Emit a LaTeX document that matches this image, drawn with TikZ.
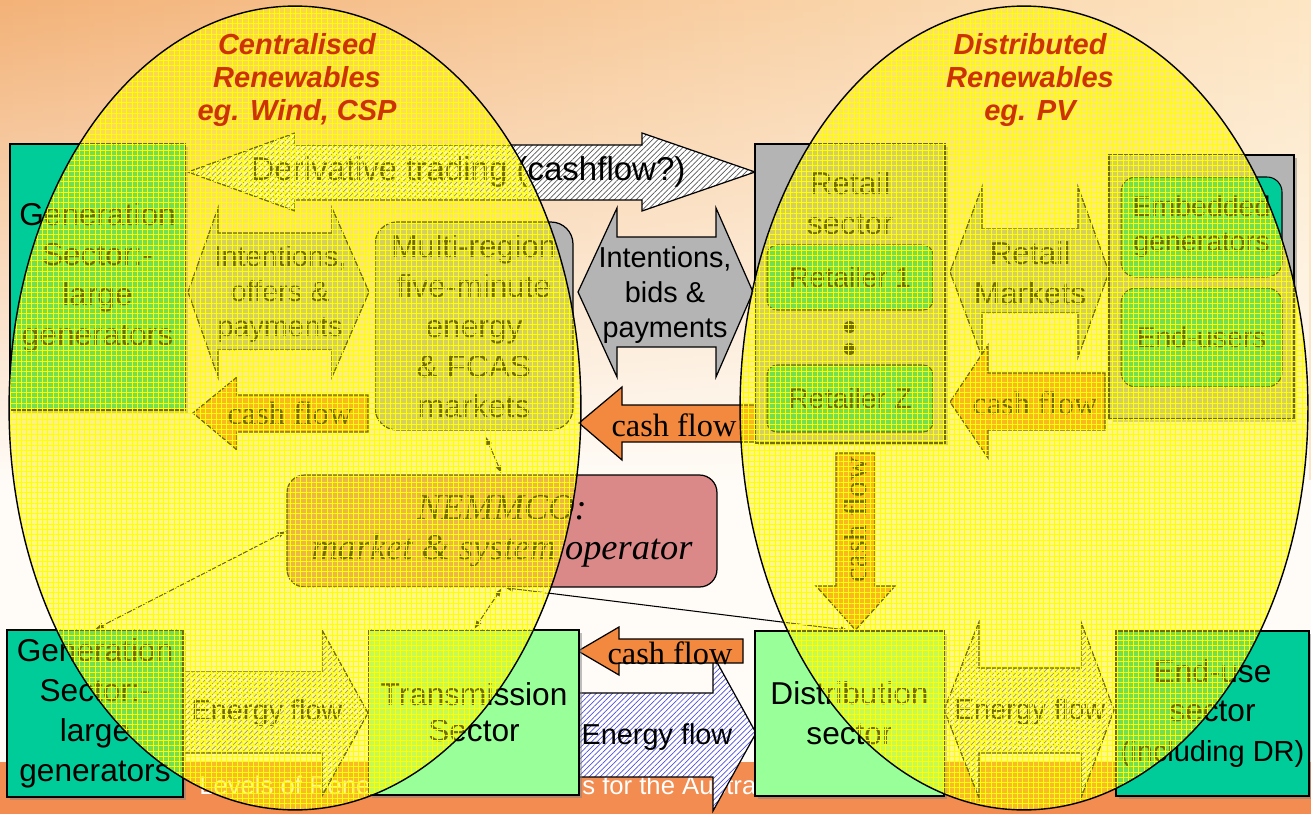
\documentclass[tikz,border=0pt]{standalone}
\usepackage{fontspec}
\setmainfont{Liberation Serif}
\setsansfont{Liberation Sans}
\usepackage{tikz}
\usetikzlibrary{arrows.meta, positioning, calc, shadows, patterns.meta, fadings}

\definecolor{sectorteal}{RGB}{0,204,153}
\definecolor{marketgray}{RGB}{180,180,180}
\definecolor{wiregreen}{RGB}{153,255,153}
\definecolor{nemrose}{RGB}{219,136,136}
\definecolor{cashorange}{RGB}{242,137,62}
\definecolor{titlered}{RGB}{204,51,0}
\definecolor{bgpeach}{RGB}{243,178,120}
\definecolor{bglight}{RGB}{253,230,196}
\definecolor{bgwhite}{RGB}{255,252,247}
\definecolor{bandorange}{RGB}{242,140,80}
\definecolor{flowblue}{RGB}{80,80,220}

\begin{document}
\begin{tikzpicture}[x=0.02cm, y=-0.02cm,
    sector/.style={draw, line width=0.7pt, inner sep=0pt, align=center,
        font=\sffamily\fontsize{18}{22.7}\selectfont,
        drop shadow={shadow xshift=1.7pt, shadow yshift=-1.7pt, opacity=0.5}},
    pane/.style={draw, line width=0.6pt, rounded corners=0.2cm, fill=sectorteal,
        inner sep=0pt, align=center, font=\sffamily\fontsize{16.2}{19.8}\selectfont},
    bigtext/.style={align=center, inner sep=0pt, font=\sffamily\fontsize{18}{22.7}\selectfont},
    flowtext/.style={align=center, inner sep=0pt, font=\sffamily\fontsize{16.4}{19.8}\selectfont},
    cashtext/.style={inner sep=0pt, font=\fontsize{18.4}{22}\selectfont},
    foottext/.style={inner sep=0pt, text=white, font=\sffamily\fontsize{14.6}{17}\selectfont},
    zonetitle/.style={align=center, inner sep=0pt, text=titlered,
        font=\sffamily\bfseries\itshape\fontsize{16.5}{19}\selectfont},
    cash/.style={draw, line width=0.7pt, fill=cashorange},
    flowgray/.style={draw, line width=0.7pt, fill=marketgray},
    hatched/.style={draw, line width=0.7pt, preaction={fill=white},
        pattern={Lines[angle=45, distance=2.2pt, line width=0.4pt]}, pattern color=black!65},
    hatchblue/.style={hatched, pattern color=flowblue},
    link/.style={line width=0.6pt, {Latex[length=5pt, width=3.4pt]}-{Latex[length=5pt, width=3.4pt]}}]

    \useasboundingbox (0,0) rectangle (1311,814);

    % Background
    \shade[left color=bgpeach, right color=bglight] (0,0) rectangle (1311,480);
    \fill[bgwhite, path fading=north] (0,0) rectangle (1311,480);
    \fill[bgwhite] (0,480) rectangle (1311,762);
    \fill[bandorange] (0,762) rectangle (1311,814);
    \node[foottext, anchor=base west] (foot1) at (199,794) {Levels of Rene};
    \node[foottext, anchor=base west] (foot2) at (582,794) {s for the Austra};

    % Derivative trading
    \draw[hatched] (188,172) -- (295,133) -- (295,145) -- (642,145) -- (642,133) -- (755,172)
        -- (642,211) -- (642,200) -- (295,200) -- (295,211) -- cycle;
    \node[flowtext, font=\sffamily\fontsize{18.8}{22}\selectfont] (deriv) at (468,172) {Derivative trading (cashflow?)};

    % Market exchanges
    \draw[flowgray] (188,292) -- (218,208) -- (218,233) -- (332,233) -- (332,208) -- (369,292)
        -- (332,377) -- (332,350) -- (218,350) -- (218,377) -- cycle;
    \node[flowtext] (offers) at (280,294) {Intentions,\\offers \&\\payments};
    \draw[flowgray] (578,292) -- (617,208) -- (617,237) -- (716,237) -- (716,208) -- (753,292)
        -- (716,377) -- (716,347) -- (617,347) -- (617,377) -- cycle;
    \node[flowtext] (bids) at (665,295) {Intentions,\\bids \&\\payments};
    \draw[flowgray] (950,272) -- (982,187) -- (982,229) -- (1078,229) -- (1078,187) -- (1109,272)
        -- (1078,357) -- (1078,313) -- (982,313) -- (982,357) -- cycle;
    \node[bigtext] (retmkt) at (1030,273) {Retail\\Markets};

    % Energy flows
    \draw[hatched] (183,672) -- (322,672) -- (322,630) -- (368,713) -- (322,796) -- (322,753)
        -- (183,753) -- cycle;
    \node[flowtext] (energyA) at (267,713) {Energy flow};
    \draw[hatchblue] (579,693) -- (713,693) -- (713,655) -- (756,733) -- (713,811) -- (713,777)
        -- (579,777) -- cycle;
    \node[flowtext] (energyB) at (657,737) {Energy flow};
    \draw[hatched] (944,710) -- (979,622) -- (979,668) -- (1081,668) -- (1081,622) -- (1114,710)
        -- (1081,798) -- (1081,753) -- (979,753) -- (979,798) -- cycle;
    \node[flowtext] (energyC) at (1030,712) {Energy flow};

    % Cash flows
    \draw[cash] (193,413) -- (237,377) -- (237,395) -- (368,395) -- (368,432) -- (237,432) -- (237,450) -- cycle;
    \node[cashtext] (cashA) at (290,413) {cash flow};
    \draw[cash] (579,423) -- (622,387) -- (622,405) -- (757,405) -- (757,442) -- (622,442) -- (622,460) -- cycle;
    \node[cashtext] (cashB) at (674,425) {cash flow};
    \draw[cash] (950,402) -- (988,345) -- (988,373) -- (1105,373) -- (1105,430) -- (988,430) -- (988,458) -- cycle;
    \node[cashtext] (cashC) at (1035,403) {cash flow};
    \draw[cash] (836,453) -- (875,453) -- (875,586) -- (895,586) -- (855.5,630) -- (816,586) -- (836,586) -- cycle;
    \node[cashtext, rotate=90] (cashD) at (855.5,520) {cash flow};
    \draw[cash] (578,651) -- (619,627) -- (619,639) -- (743,639) -- (743,663) -- (619,663) -- (619,675) -- cycle;
    \node[cashtext] (cashE) at (670,653) {cash flow};

    % Sectors
    \node[sector, fill=sectorteal, minimum width=3.5cm, minimum height=5.32cm] (genA) at (97.5,277)
        {Generation\\Sector:-\\large\\generators};
    \node[sector, fill=marketgray, minimum width=3.8cm, minimum height=5.98cm] (retail) at (850,293.5) {};
    \node[bigtext] (retailtxt) at (850,203) {Retail\\sector};
    \node[pane, minimum width=3.32cm, minimum height=1.3cm] (ret1) at (850,277.5) {Retailer 1};
    \node[pane, minimum width=3.32cm, minimum height=1.34cm] (retZ) at (850,398.5) {Retailer Z};
    \node[circle, fill, inner sep=0pt, minimum size=0.24cm] (dot1) at (849.5,327) {};
    \node[circle, fill, inner sep=0pt, minimum size=0.24cm] (dot2) at (849.5,349) {};
    \node[sector, fill=marketgray, minimum width=3.7cm, minimum height=5.28cm] (users) at (1201.5,287) {};
    \node[pane, rounded corners=0.3cm, minimum width=3.22cm, minimum height=2cm] (embed) at (1201.5,227)
        {Embedded\\generators};
    \node[pane, rounded corners=0.3cm, minimum width=3.22cm, minimum height=1.98cm] (endusers) at (1201.5,337.5)
        {End-users};
    \node[bigtext, draw, line width=0.7pt, fill=marketgray, rounded corners=0.44cm,
        minimum width=3.96cm, minimum height=4.16cm] (multi) at (474,326)
        {Multi-region\\five-minute\\energy\\\& FCAS\\markets};
    \node[draw, line width=0.7pt, fill=nemrose, rounded corners=0.35cm, minimum width=8.6cm,
        minimum height=2.24cm, align=center, font=\itshape\fontsize{20.7}{22.7}\selectfont] (nemmco) at (502,531)
        {NEMMCO:\\market \& system operator};
    \node[sector, fill=sectorteal, minimum width=3.52cm, minimum height=3.34cm] (genB) at (95,713.5)
        {Generation\\Sector:-\\large\\generators};
    \node[sector, fill=wiregreen, minimum width=4.2cm, minimum height=3.3cm,
        font=\sffamily\fontsize{18}{20.5}\selectfont] (trans) at (474,712.5) {Transmission\\Sector};
    \node[sector, fill=wiregreen, minimum width=3.78cm, minimum height=3.3cm] (dist) at (849.5,713.5)
        {Distribution\\sector};
    \node[sector, fill=sectorteal, minimum width=3.86cm, minimum height=3.3cm] (enduse) at (1212.5,713.5)
        {End-use\\sector\\{\fontsize{16.5}{20}\selectfont(including DR)}};

    % Operator links
    \draw[link, shorten <=3.5pt] (multi.-85) -- (nemmco.north);
    \draw[link] (nemmco.west) -- (genB.north);
    \draw[link] (nemmco.south) -- (trans.north);
    \draw[link] (nemmco.-88) -- (dist.north);

    % Renewable zones
    \foreach \cx/\rx in {295/5.72, 1024/5.68} {
        \fill[yellow, fill opacity=0.45] (\cx,408) ellipse [x radius=\rx cm, y radius=8.04cm];
        \fill[pattern={Hatch[angle=0, distance=3pt, line width=0.2pt]}, pattern color=yellow, fill opacity=0.35]
            (\cx,408) ellipse [x radius=\rx cm, y radius=8.04cm];
        \draw[line width=0.8pt] (\cx,408) ellipse [x radius=\rx cm, y radius=8.04cm];
    }
    \node[zonetitle] (central) at (297,80) {Centralised\\Renewables\\eg. Wind, CSP};
    \node[zonetitle] (distrib) at (1030,80) {Distributed\\Renewables\\eg. PV};
\end{tikzpicture}
\end{document}
